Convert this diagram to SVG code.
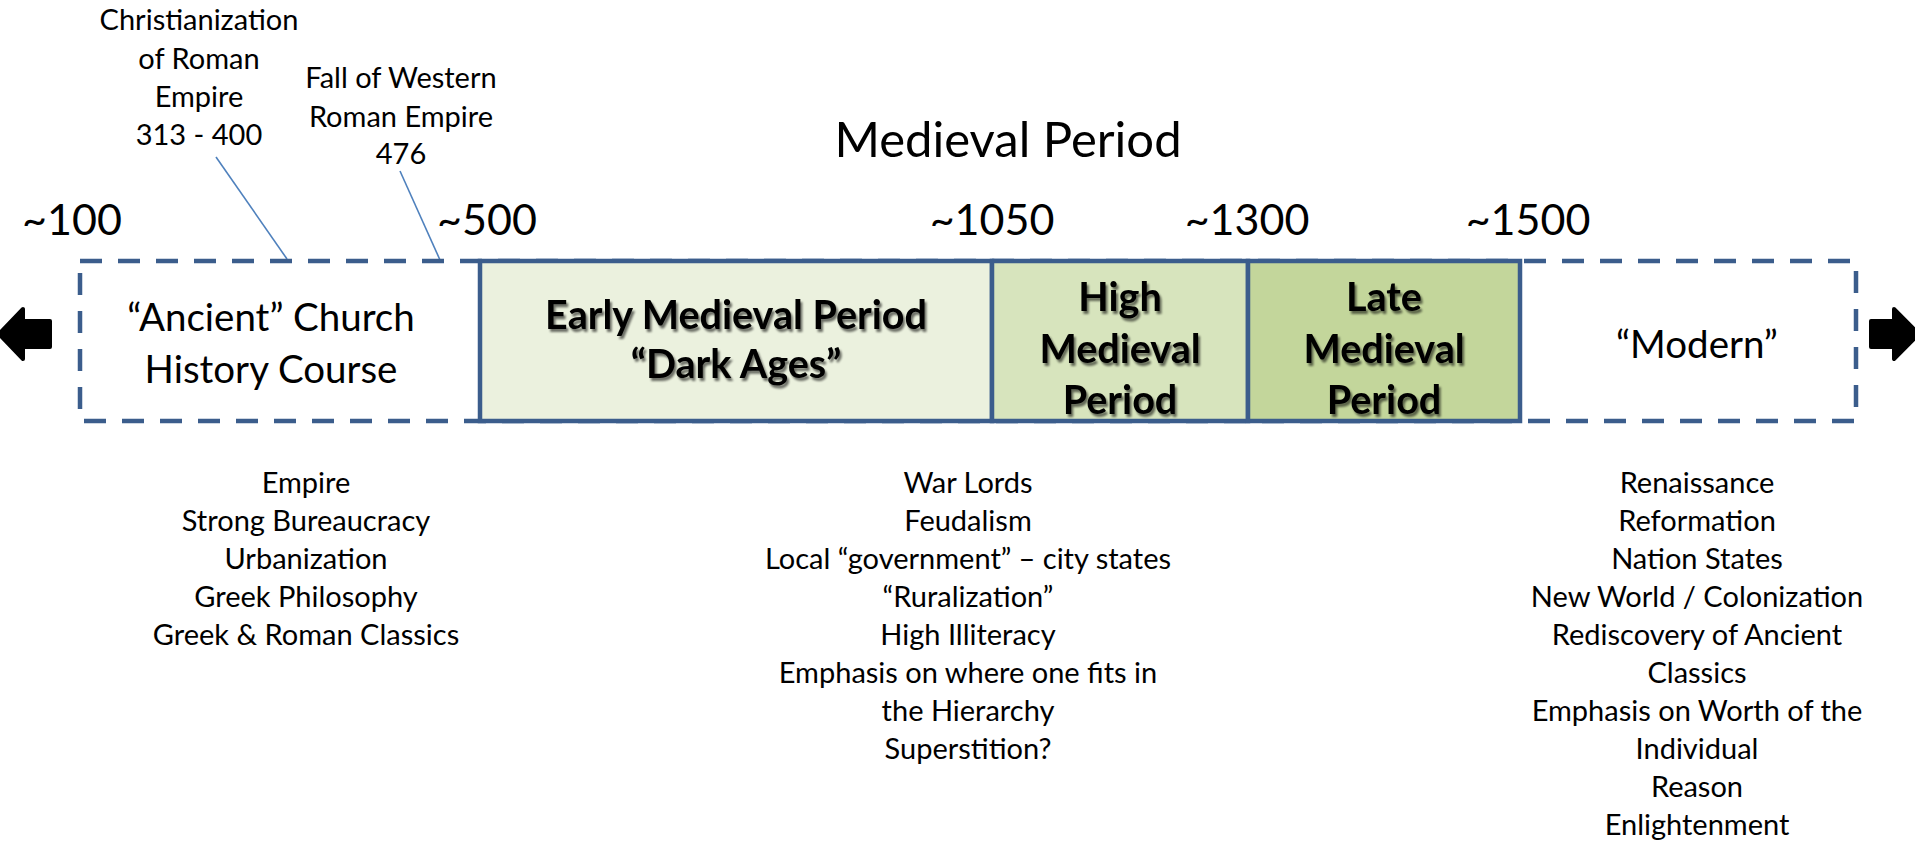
<svg xmlns="http://www.w3.org/2000/svg" width="1915" height="843" viewBox="0 0 1915 843">
<defs>
<style>
text{font-family:Lato,"Liberation Sans",sans-serif;fill:#000;text-anchor:middle}
.s{font-size:29px}
.yr{font-size:43px}
.ttl{font-size:49px}
.box{font-size:38.5px}
.b{font-size:39.5px;font-weight:bold}
.solid{stroke:#3B5D8C;stroke-width:4.5}
.dash{fill:none;stroke:#3B5D8C;stroke-width:4.5;stroke-dasharray:22 16}
.lead{stroke:#4F81BD;stroke-width:1.6;fill:none}
.arr{fill:#000;stroke:#000;stroke-width:4;stroke-linejoin:round}
</style>
<filter id="sh" x="-10%" y="-20%" width="120%" height="140%">
<feGaussianBlur in="SourceAlpha" stdDeviation="1.2"/>
<feOffset dx="2" dy="2.5" result="o"/>
<feComponentTransfer><feFuncA type="linear" slope="0.55"/></feComponentTransfer>
<feMerge><feMergeNode/><feMergeNode in="SourceGraphic"/></feMerge>
</filter>
</defs>
<rect width="1915" height="843" fill="#fff"/>

<g id="connectors">
<line class="lead" x1="216" y1="157" x2="287" y2="259"/>
<line class="lead" x1="400" y1="171" x2="440" y2="260"/>
</g>

<g id="dashed-frame">
<rect class="dash" x="80" y="261" width="1776" height="160"/>
</g>

<g id="ancient">
<text class="box" x="271" y="331">“Ancient” Church</text>
<text class="box" x="271" y="383">History Course</text>
</g>

<g id="modern">
<text class="box" x="1697" y="358">“Modern”</text>
</g>

<g id="early">
<rect class="solid" x="480" y="261" width="512" height="160" fill="#EBF1DE"/>
<g filter="url(#sh)">
<text class="b" x="736" y="329">Early Medieval Period</text>
<text class="b" x="736" y="378">“Dark Ages”</text>
</g>
</g>

<g id="high">
<rect class="solid" x="992" y="261" width="256" height="160" fill="#D7E4BD"/>
<g filter="url(#sh)">
<text class="b" x="1120" y="311">High</text>
<text class="b" x="1120" y="363">Medieval</text>
<text class="b" x="1120" y="414">Period</text>
</g>
</g>

<g id="late">
<rect class="solid" x="1248" y="261" width="272" height="160" fill="#C3D69B"/>
<g filter="url(#sh)">
<text class="b" x="1384" y="311">Late</text>
<text class="b" x="1384" y="363">Medieval</text>
<text class="b" x="1384" y="414">Period</text>
</g>
</g>

<g id="arrow-left">
<polygon class="arr" points="-1,334 23,309 23,321 50,321 50,347 23,347 23,359"/>
</g>
<g id="arrow-right">
<polygon class="arr" points="1871,321 1894,321 1894,309 1919,334 1894,359 1894,347 1871,347"/>
</g>

<g id="title">
<text class="ttl" x="1008" y="157">Medieval Period</text>
</g>

<g id="years">
<text class="yr" x="72" y="235">~100</text>
<text class="yr" x="487" y="235">~500</text>
<text class="yr" x="992" y="235">~1050</text>
<text class="yr" x="1247" y="235">~1300</text>
<text class="yr" x="1528" y="235">~1500</text>
</g>

<g id="christianization">
<text class="s" x="199" y="30">Christianization</text>
<text class="s" x="199" y="69">of Roman</text>
<text class="s" x="199" y="107">Empire</text>
<text class="s" x="199" y="145">313 - 400</text>
</g>

<g id="fall">
<text class="s" x="401" y="88">Fall of Western</text>
<text class="s" x="401" y="127">Roman Empire</text>
<text class="s" x="401" y="164">476</text>
</g>

<g id="list-ancient">
<text class="s" x="306" y="493">Empire</text>
<text class="s" x="306" y="531">Strong Bureaucracy</text>
<text class="s" x="306" y="569">Urbanization</text>
<text class="s" x="306" y="607">Greek Philosophy</text>
<text class="s" x="306" y="645">Greek &amp; Roman Classics</text>
</g>

<g id="list-medieval">
<text class="s" x="968" y="493">War Lords</text>
<text class="s" x="968" y="531">Feudalism</text>
<text class="s" x="968" y="569">Local “government” – city states</text>
<text class="s" x="968" y="607">“Ruralization”</text>
<text class="s" x="968" y="645">High Illiteracy</text>
<text class="s" x="968" y="683">Emphasis on where one fits in</text>
<text class="s" x="968" y="721">the Hierarchy</text>
<text class="s" x="968" y="759">Superstition?</text>
</g>

<g id="list-modern">
<text class="s" x="1697" y="493">Renaissance</text>
<text class="s" x="1697" y="531">Reformation</text>
<text class="s" x="1697" y="569">Nation States</text>
<text class="s" x="1697" y="607">New World / Colonization</text>
<text class="s" x="1697" y="645">Rediscovery of Ancient</text>
<text class="s" x="1697" y="683">Classics</text>
<text class="s" x="1697" y="721">Emphasis on Worth of the</text>
<text class="s" x="1697" y="759">Individual</text>
<text class="s" x="1697" y="797">Reason</text>
<text class="s" x="1697" y="835">Enlightenment</text>
</g>
</svg>
